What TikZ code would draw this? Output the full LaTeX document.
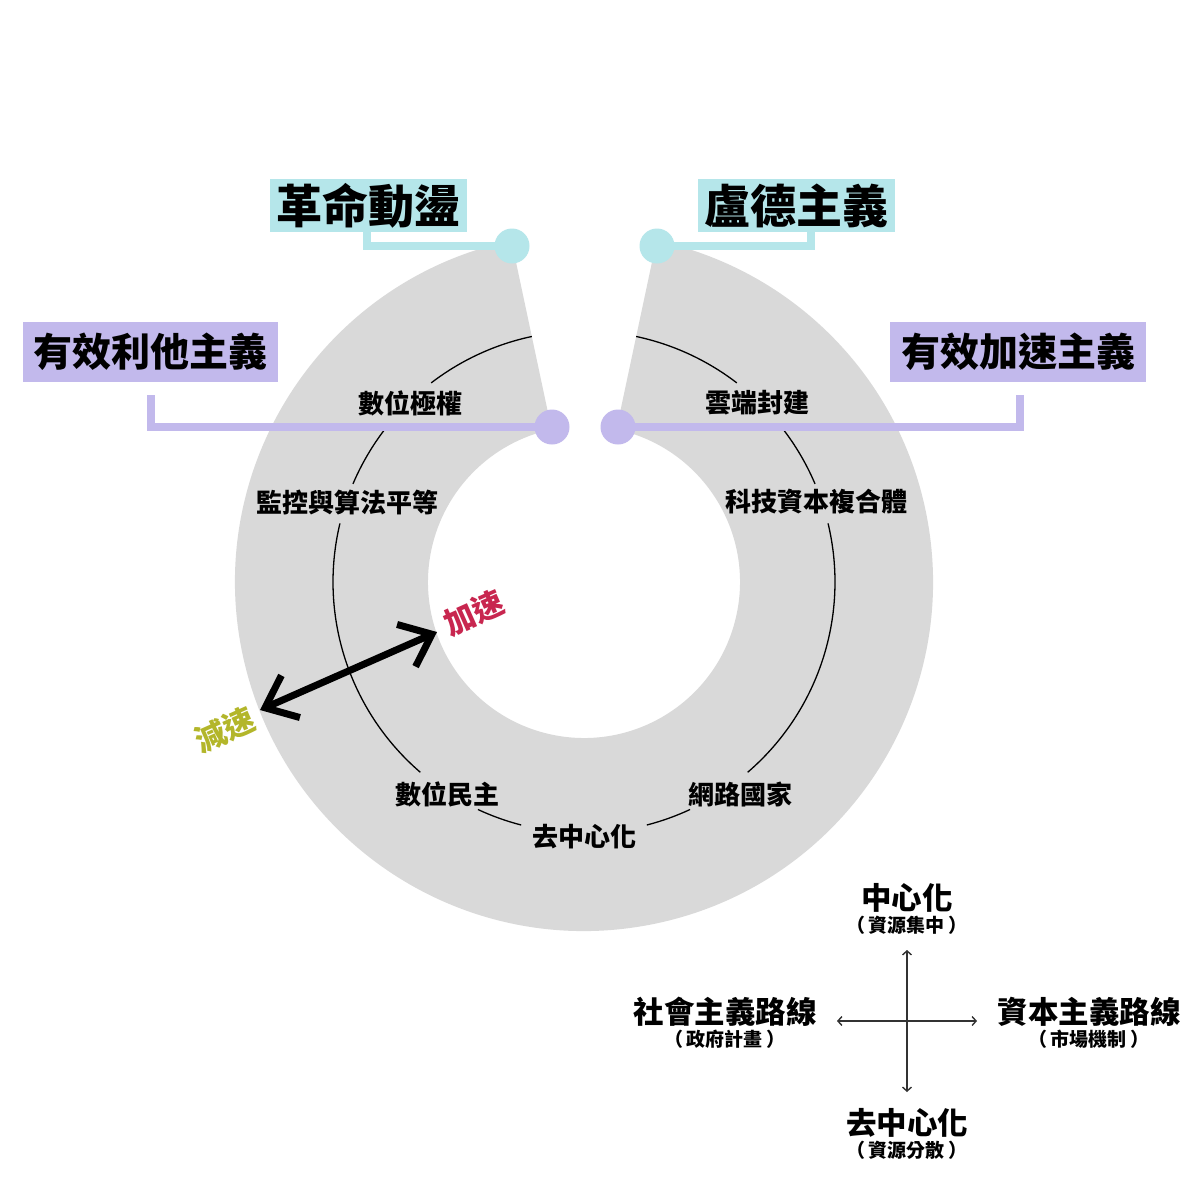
\documentclass[tikz,border=0pt]{standalone}
\usepackage{fontspec}
\setmainfont{Noto Sans CJK TC}
\usetikzlibrary{arrows.meta,calc}
\definecolor{ringgray}{HTML}{D9D9D9}
\definecolor{tealc}{HTML}{B5E6EA}
\definecolor{purc}{HTML}{C2B9EC}
\definecolor{accel}{HTML}{C8264F}
\definecolor{decel}{HTML}{B3B62A}
\definecolor{axisc}{HTML}{333333}
\newcommand{\parsub}[1]{（\hspace{0.18em}#1\hspace{0.18em}）}
\begin{document}
\begin{tikzpicture}[x=1pt,y=1pt,
  ringlab/.style={font=\bfseries\fontsize{26}{28}\selectfont, inner sep=0pt},
  tbox/.style={fill=tealc, inner sep=0pt, minimum width=197pt, minimum height=53pt, font=\bfseries\fontsize{46}{48}\selectfont},
  pbox/.style={fill=purc, inner sep=0pt, minimum width=256pt, minimum height=60pt, font=\bfseries\fontsize{39}{41}\selectfont},
  tdot/.style={circle, fill=tealc, minimum size=35pt, inner sep=0pt},
  pdot/.style={circle, fill=purc, minimum size=35pt, inner sep=0pt},
  tline/.style={draw=tealc, line width=7.5pt},
  pline/.style={draw=purc, line width=7.5pt},
  thinarc/.style={draw=black, line width=1.3pt},
  bigarrow/.style={draw=black, line width=7pt, arrows={Straight Barb[length=28pt,width=46pt]-Straight Barb[length=28pt,width=46pt]}},
  speed/.style={font=\bfseries\fontsize{31}{33}\selectfont, inner sep=0pt, rotate=24},
  axarrow/.style={draw=axisc, line width=1.4pt, arrows={Straight Barb[length=4pt,width=9pt]-Straight Barb[length=4pt,width=9pt]}},
  axmain/.style={font=\bfseries\fontsize{30.5}{32}\selectfont, inner sep=0pt},
  axsub/.style={font=\bfseries\fontsize{19}{21}\selectfont, inner sep=0pt}
]
\useasboundingbox[fill=white] (0,0) rectangle (1200,-1200);
\coordinate (c) at (584,-582);
% ring
\fill[ringgray] ($(c)+(102:349)$) arc[start angle=102,end angle=438,radius=349]
  -- ($(c)+(78:156)$) arc[start angle=78,end angle=-258,radius=156] -- cycle;
% middle circle arcs
\draw[thinarc] ($(c)+(102:251)$) arc[start angle=102,end angle=127.5,radius=251];
\draw[thinarc] ($(c)+(78:251)$) arc[start angle=78,end angle=52.5,radius=251];
\draw[thinarc] ($(c)+(142.5:251)$) arc[start angle=142.5,end angle=157,radius=251];
\draw[thinarc] ($(c)+(37.5:251)$) arc[start angle=37.5,end angle=23,radius=251];
\draw[thinarc] ($(c)+(166.5:251)$) arc[start angle=166.5,end angle=229.3,radius=251];
\draw[thinarc] ($(c)+(13.5:251)$) arc[start angle=13.5,end angle=-49.3,radius=251];
\draw[thinarc] ($(c)+(245:251)$) arc[start angle=245,end angle=255.5,radius=251];
\draw[thinarc] ($(c)+(295:251)$) arc[start angle=295,end angle=284.5,radius=251];
% ring labels
\node[ringlab] (l1) at (410,-403) {數位極權};
\node[ringlab] (r1) at (757,-403) {雲端封建};
\node[ringlab] (l2) at (347,-502) {監控與算法平等};
\node[ringlab] (r2) at (816,-502) {科技資本複合體};
\node[ringlab] (l3) at (447,-794) {數位民主};
\node[ringlab] (r3) at (740,-794) {網路國家};
\node[ringlab] (b) at (584,-837) {去中心化};
% title boxes
\node[tbox] (rev) at (368.5,-205.5) {革命動盪};
\node[tbox] (lud) at (796,-205.5) {盧德主義};
\node[pbox, minimum width=255pt] (altru) at (150.5,-352) {有效利他主義};
\node[pbox] (acc) at (1018,-352) {有效加速主義};
% dot positions
\coordinate (tlp) at (512,-246);
\coordinate (trp) at (657,-246);
\coordinate (ilp) at (552,-427);
\coordinate (irp) at (618,-427);
% connectors
\draw[tline] ($(rev.south)+(-1.5,0)$) |- (tlp);
\draw[tline] ($(lud.south)+(15,0)$) |- (trp);
\draw[pline] ($(altru.south)+(0.5,-13)$) |- (ilp);
\draw[pline] ($(acc.south)+(2,-13)$) |- (irp);
\node[tdot] (tl) at (tlp) {};
\node[tdot] (tr) at (trp) {};
\node[pdot] (il) at (ilp) {};
\node[pdot] (ir) at (irp) {};
% speed arrow
\coordinate (slow) at (260,-710);
\coordinate (fast) at (437,-632);
\draw[bigarrow] (slow) -- (fast);
\node[speed, text=decel] (dec) at (225,-730) {減速};
\node[speed, text=accel] (acl) at (474,-613) {加速};
% axes
\coordinate (axT) at (907,-950);
\coordinate (axB) at (907,-1092);
\coordinate (axL) at (837,-1021);
\coordinate (axR) at (977,-1021);
\draw[axarrow] (axT) -- (axB);
\draw[axarrow] (axL) -- (axR);
\node[axmain] (cen) at (907,-898) {中心化};
\node[axsub] (cens) at (907,-925) {\parsub{資源集中}};
\node[axmain] (dec2) at (907,-1123) {去中心化};
\node[axsub] (decs) at (907,-1150) {\parsub{資源分散}};
\node[axmain] (soc) at (725,-1012) {社會主義路線};
\node[axsub] (socs) at (725,-1039) {\parsub{政府計畫}};
\node[axmain] (cap) at (1089,-1012) {資本主義路線};
\node[axsub] (caps) at (1089,-1039) {\parsub{市場機制}};
\end{tikzpicture}
\end{document}
